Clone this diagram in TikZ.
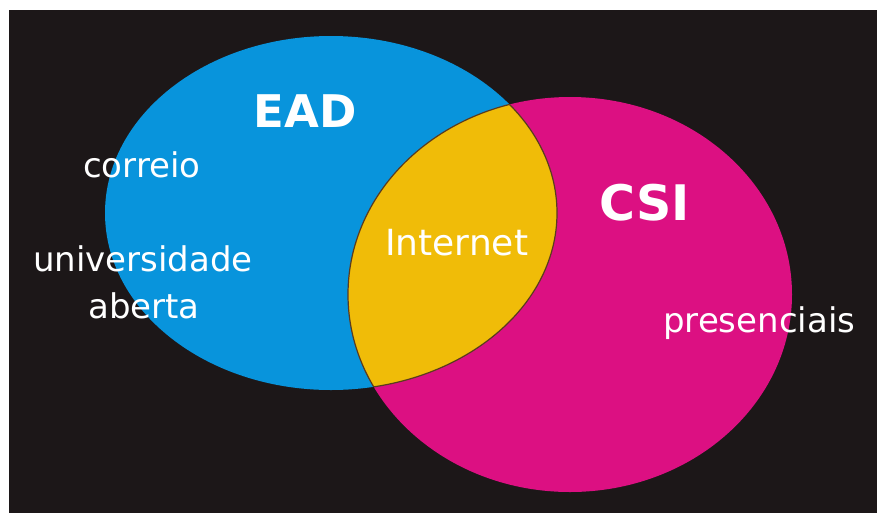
\documentclass[tikz,border=0pt]{standalone}
\usepackage{fontspec}
\setmainfont{DejaVu Sans}
\definecolor{bgdark}{RGB}{28,23,24}
\definecolor{eadblue}{RGB}{8,148,220}
\definecolor{csipink}{RGB}{220,16,130}
\definecolor{netyellow}{RGB}{240,188,8}
\definecolor{edgebrown}{RGB}{90,60,30}
\begin{document}
\begin{tikzpicture}[x=1pt,y=-1pt,
  lbl/.style={text=white,inner sep=0pt,font=\fontsize{34}{34}\selectfont},
  ttl/.style={text=white,inner sep=0pt,font=\bfseries\fontsize{45}{45}\selectfont}]
\useasboundingbox (0,0) rectangle (877,515);
\fill[white] (0,0) rectangle (877,515);
\fill[bgdark] (9,10) rectangle (877,513);
% ellipses
\fill[eadblue] (331,213) ellipse [x radius=226pt, y radius=177pt];
\fill[csipink] (570,294.5) ellipse [x radius=222pt, y radius=197.5pt];
\begin{scope}
  \clip (331,213) ellipse [x radius=226pt, y radius=177pt];
  \fill[netyellow,draw=edgebrown,line width=1.2pt] (570,294.5) ellipse [x radius=222pt, y radius=197.5pt];
\end{scope}
\begin{scope}
  \clip (570,294.5) ellipse [x radius=222pt, y radius=197.5pt];
  \draw[edgebrown,line width=1.2pt] (331,213) ellipse [x radius=226pt, y radius=177pt];
\end{scope}
% labels
\node[ttl,anchor=base] (ead) at (305,127) {EAD};
\node[ttl,anchor=base,font=\bfseries\fontsize{49}{49}\selectfont] (csi) at (645,220) {CSI};
\node[lbl,anchor=base west] (correio) at (83,177) {correio};
\node[lbl,anchor=base west] (univ) at (33,271) {universidade};
\node[lbl,anchor=base west] (aberta) at (88,318) {aberta};
\node[lbl,anchor=base west,font=\fontsize{36}{36}\selectfont] (internet) at (385,255) {Internet};
\node[lbl,anchor=base west] (pres) at (663,332) {presenciais};
\end{tikzpicture}
\end{document}
